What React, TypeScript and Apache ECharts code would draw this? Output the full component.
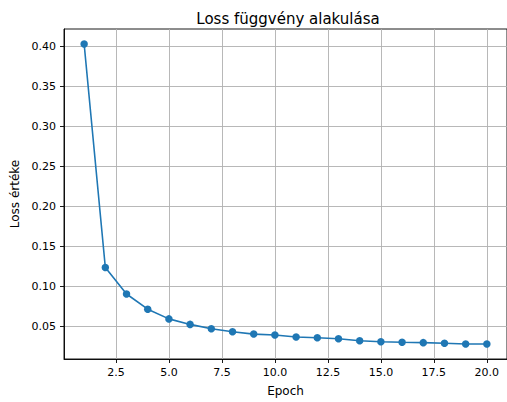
import React, { useEffect, useRef } from "react";
import * as echarts from "echarts";

const epochs = [1, 2, 3, 4, 5, 6, 7, 8, 9, 10, 11, 12, 13, 14, 15, 16, 17, 18, 19, 20];
const lossValues = [
  0.403, 0.1236, 0.0905, 0.0715, 0.0594, 0.0525, 0.047, 0.0433, 0.0404, 0.0392,
  0.0367, 0.0359, 0.0346, 0.0321, 0.0309, 0.0301, 0.0297, 0.0289, 0.028, 0.028,
];
const xTicks = [2.5, 5, 7.5, 10, 12.5, 15, 17.5, 20];
const yTicks = [0.05, 0.1, 0.15, 0.2, 0.25, 0.3, 0.35, 0.4];

const FONT = "DejaVu Sans";

export default function App() {
  const ref = useRef<HTMLDivElement>(null);
  useEffect(() => {
    if (!ref.current) return;
    const chart = echarts.init(ref.current, undefined, { renderer: "svg" });
    const xMin = Math.min(...epochs);
    const xMax = Math.max(...epochs);
    const xPad = (xMax - xMin) * 0.05;
    const yMin = Math.min(...lossValues);
    const yMax = Math.max(...lossValues);
    const yPad = (yMax - yMin) * 0.05;
    chart.setOption({
      animation: false,
      backgroundColor: "#ffffff",
      title: {
        text: "Loss függvény alakulása",
        left: 283,
        textAlign: "center",
        top: 6,
        textStyle: { fontFamily: FONT, fontSize: 15, fontWeight: "normal", color: "#000" },
      },
      grid: {
        left: 64,
        top: 29,
        width: 446,
        height: 333,
        show: true,
        borderColor: "#000",
        borderWidth: 0.9,
        backgroundColor: "transparent",
      },
      xAxis: {
        type: "value",
        min: xMin - xPad,
        max: xMax + xPad,
        name: "Epoch",
        nameLocation: "middle",
        nameGap: 26,
        nameTextStyle: { fontFamily: FONT, fontSize: 12, color: "#000" },
        axisLine: { show: true, onZero: false, lineStyle: { color: "#000", width: 0.9 } },
        axisTick: { show: true, inside: false, length: 4, customValues: xTicks, lineStyle: { color: "#000", width: 0.9 } },
        axisLabel: {
          customValues: xTicks,
          margin: 8,
          fontFamily: FONT,
          fontSize: 11,
          color: "#000",
          formatter: (v: number) => v.toFixed(1),
        },
        splitLine: { show: true, lineStyle: { color: "#b0b0b0", width: 0.9 } },
      },
      yAxis: {
        type: "value",
        min: yMin - yPad,
        max: yMax + yPad,
        name: "Loss értéke",
        nameLocation: "middle",
        nameGap: 43,
        nameRotate: 90,
        nameTextStyle: { fontFamily: FONT, fontSize: 12, color: "#000" },
        axisLine: { show: true, onZero: false, lineStyle: { color: "#000", width: 0.9 } },
        axisTick: { show: true, inside: false, length: 4, customValues: yTicks, lineStyle: { color: "#000", width: 0.9 } },
        axisLabel: {
          customValues: yTicks,
          margin: 8,
          fontFamily: FONT,
          fontSize: 11,
          color: "#000",
          formatter: (v: number) => v.toFixed(2),
        },
        splitLine: { show: true, lineStyle: { color: "#b0b0b0", width: 0.9 } },
      },
      series: [
        {
          type: "line",
          data: epochs.map((e, i) => [e, lossValues[i]]),
          symbol: "circle",
          symbolSize: 7.5,
          showSymbol: true,
          lineStyle: { color: "#1f77b4", width: 1.6 },
          itemStyle: { color: "#1f77b4" },
          emphasis: { disabled: true },
        },
      ],
    });
    return () => chart.dispose();
  }, []);
  return (
    <div
      ref={ref}
      style={{ position: "absolute", left: 0, top: 0, width: 507, height: 402 }}
    />
  );
}
